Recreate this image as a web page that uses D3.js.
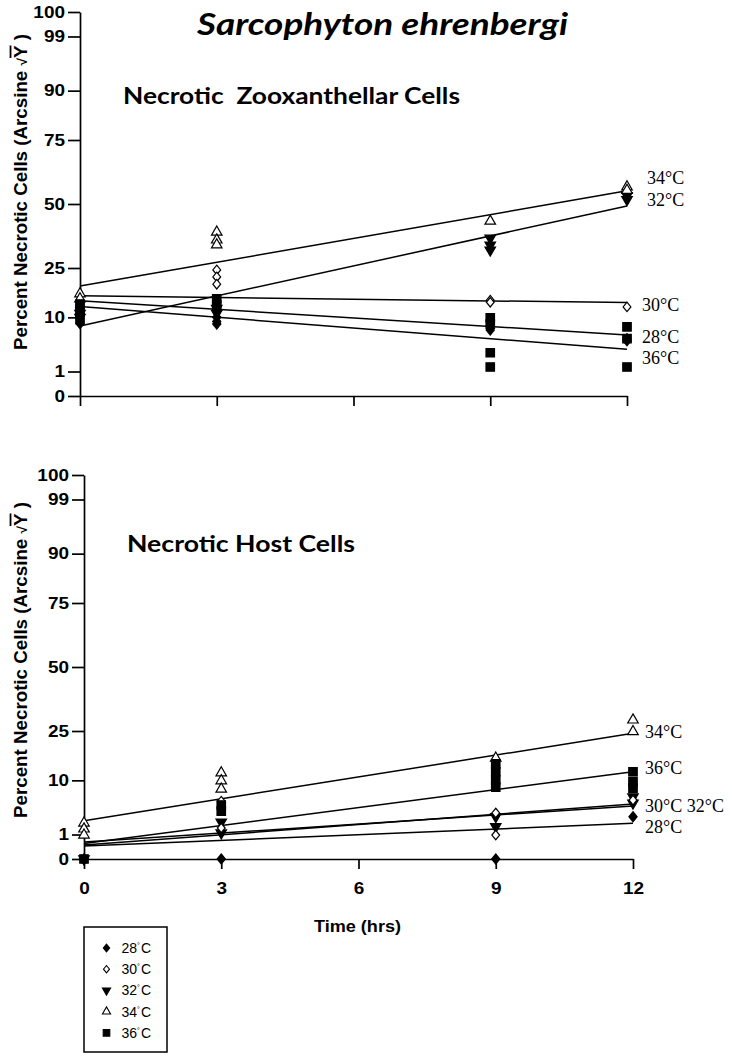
<!DOCTYPE html>
<html><head><meta charset="utf-8">
<script src="https://cdn.jsdelivr.net/npm/d3@7"></script>
<style>
body{margin:0;background:#fff}
svg{display:block}
</style></head><body>
<svg id="chart" width="732" height="1058"></svg>
<script>
// ---------------- data ----------------
const temps = ["28°C", "30°C", "32°C", "34°C", "36°C"];
const timeTicks = [0, 3, 6, 9, 12];
const percentTicks = [0, 1, 10, 25, 50, 75, 90, 99, 100];
const mainTitle = "Sarcophyton ehrenbergi";
const panelTitles = ["Necrotic  Zooxanthellar Cells", "Necrotic Host Cells"];
const xAxisTitle = "Time (hrs)";

// Necrotic zooxanthellar cells: [hours, percent]
const zoo28 = [[0, 12], [0, 11], [0, 8.5], [3, 10], [3, 9], [3, 8.4], [9, 8], [9, 7.1], [12, 5.4], [12, 5]];
const zoo30 = [[0, 14], [0, 13.5], [3, 24.3], [3, 21.9], [3, 19.5], [9, 14.6], [9, 14], [12, 12.7]];
const zoo32 = [[0, 11], [0, 10], [3, 12.3], [3, 11], [9, 36.2], [9, 33.5], [9, 31.6], [12, 53.4], [12, 51.8]];
const zoo34 = [[0, 16.5], [0, 15], [3, 38.6], [3, 35.5], [3, 33.6], [9, 43], [12, 57], [12, 55.6]];
const zoo36 = [[0, 13.5], [0, 12], [0, 9.5], [3, 15], [3, 13.2], [9, 9.9], [9, 8.4], [9, 3.1], [9, 1.4], [12, 7.8], [12, 5.4], [12, 1.4]];
const zooFitStart = [14.4, 15.9, 8.0, 18.9, 12.8];   // fitted percent at 0 h
const zooFitEnd = [6.1, 13.9, 49.2, 55.4, 3.6];      // fitted percent at 12 h

// Necrotic host cells: [hours, percent]
const host28 = [[0, 0], [3, 0], [9, 0], [12, 2.96]];
const host30 = [[0, 0], [3, 5.5], [3, 1.6], [9, 3.5], [9, 0.96], [12, 5.7]];
const host32 = [[0, 0], [3, 2.27], [3, 1.13], [9, 2.96], [9, 1.74], [12, 6.3], [12, 5.15]];
const host34 = [[0, 2.15], [0, 1.5], [0, 0.96], [3, 11.9], [3, 9.9], [3, 7.96], [9, 16.1], [12, 29], [12, 24.8]];
const host36 = [[0, 0], [3, 4.8], [3, 3.8], [9, 14.4], [9, 12.2], [9, 10.1], [9, 8.4], [12, 12.2], [12, 9.7], [12, 8.1]];
const hostFitStart = [0.28, 0.48, 0.33, 2.44, 0.40];
const hostFitEnd = [2.12, 4.63, 4.97, 24.2, 12.2];

// which series share each end label
const zooLabelGroups = [[3], [2], [1], [0], [4]];
const hostLabelGroups = [[3], [4], [1, 2], [0]];

// ---------------- layout ----------------
const asr = p => Math.asin(Math.sqrt(p / 100)) * 180 / Math.PI;  // arcsine sqrt transform (degrees)
const tickAngles = percentTicks.map(asr);

const panels = [
  { series: [zoo28, zoo30, zoo32, zoo34, zoo36], fitStart: zooFitStart, fitEnd: zooFitEnd, groups: zooLabelGroups,
    x0: 80, x1: 627, yb: 396, yt: 12, title: panelTitles[0], titleX: 123, titleY: 104, titleLen: 337,
    labelX: [647, 647, 642, 642, 642], labelDy: [-13, -6, 2, 2, 8], tickLabels: false, yTitleY: 192 },
  { series: [host28, host30, host32, host34, host36], fitStart: hostFitStart, fitEnd: hostFitEnd, groups: hostLabelGroups,
    x0: 84, x1: 633, yb: 859, yt: 475, title: panelTitles[1], titleX: 127, titleY: 552, titleLen: 228,
    labelX: [645, 645, 645, 645], labelDy: [-2, -4, 1, 3], tickLabels: true, yTitleY: 660 }
];

// custom diamond (wider than d3's default), size ~ height^2
const diamond = {
  draw(ctx, size) {
    const h = Math.sqrt(size) / 2, w = h * 0.82;
    ctx.moveTo(0, -h); ctx.lineTo(w, 0); ctx.lineTo(0, h); ctx.lineTo(-w, 0); ctx.closePath();
  }
};

const symDefs = [
  { type: diamond, size: 100, fill: "#000", rot: 0 },
  { type: diamond, size: 90, fill: "#fff", rot: 0 },
  { type: d3.symbolTriangle, size: 48, fill: "#000", rot: 180 },
  { type: d3.symbolTriangle, size: 48, fill: "#fff", rot: 0 },
  { type: d3.symbolSquare, size: 72, fill: "#000", rot: 0 }
];
const drawOrder = [0, 2, 1, 3, 4];

const svg = d3.select("#chart");
const AX = "'Liberation Sans', Arial, sans-serif";
const SERIF = "'Liberation Serif', 'Times New Roman', serif";

svg.append("text")
  .attr("x", 197).attr("y", 35)
  .attr("font-family", "Lato, 'Open Sans', sans-serif")
  .attr("font-weight", "bold").attr("font-style", "italic")
  .attr("font-size", 30)
  .attr("textLength", 371).attr("lengthAdjust", "spacingAndGlyphs")
  .text(mainTitle);

panels.forEach((p, pi) => {
  const x = d3.scaleLinear().domain([0, 12]).range([p.x0, p.x1]);
  const y = d3.scaleLinear().domain([0, 90]).range([p.yb, p.yt]);
  const g = svg.append("g");

  // y axis
  const yAxis = d3.axisLeft(y).tickValues(tickAngles)
    .tickFormat(d => percentTicks[tickAngles.indexOf(d)])
    .tickSize(12).tickPadding(3).tickSizeOuter(0);
  const ya = g.append("g").attr("transform", `translate(${p.x0},0)`).call(yAxis);
  ya.selectAll("text").attr("x", 0)
    .attr("transform", "translate(-15,0) scale(1.15,1)")
    .attr("font-family", AX).attr("font-weight", "bold").attr("font-size", 16.5).attr("fill", "#000");

  // x axis
  const xAxis = d3.axisBottom(x).tickValues(timeTicks).tickSize(10).tickPadding(13).tickSizeOuter(0)
    .tickFormat(p.tickLabels ? d => d : () => "");
  const xa = g.append("g").attr("transform", `translate(0,${p.yb})`).call(xAxis);
  xa.selectAll("text").attr("transform", "scale(1.15,1)")
    .attr("font-family", AX).attr("font-weight", "bold").attr("font-size", 16.5).attr("fill", "#000");
  xa.selectAll("text").attr("x", function () { return 0; });

  [ya, xa].forEach(a => {
    a.select(".domain").attr("stroke", "#000").attr("stroke-width", 1.7);
    a.selectAll(".tick line").attr("stroke", "#000").attr("stroke-width", 1.7);
  });

  // y axis title
  const yt = g.append("text")
    .attr("transform", `translate(27,${p.yTitleY}) rotate(-90) scale(1,1.2)`)
    .attr("text-anchor", "middle")
    .attr("font-family", AX).attr("font-weight", "bold").attr("font-size", 15)
    .attr("textLength", 316).attr("lengthAdjust", "spacingAndGlyphs");
  yt.append("tspan").text("Percent Necrotic Cells (Arcsine ");
  yt.append("tspan").attr("font-size", 11).text("√");
  yt.append("tspan").style("text-decoration", "overline").text("Y");
  yt.append("tspan").text(" )");

  // panel title
  g.append("text")
    .attr("x", p.titleX).attr("y", p.titleY)
    .attr("font-family", "Lato, 'Open Sans', sans-serif").attr("font-weight", "bold")
    .attr("font-size", 23).style("white-space", "pre")
    .attr("textLength", p.titleLen).attr("lengthAdjust", "spacingAndGlyphs")
    .text(p.title);

  // fitted lines
  g.selectAll(".fit").data(p.fitStart).join("line")
    .attr("x1", x(0)).attr("x2", x(12))
    .attr("y1", d => y(asr(d)))
    .attr("y2", (d, i) => y(asr(p.fitEnd[i])))
    .attr("stroke", "#000").attr("stroke-width", 1.5);

  // points
  drawOrder.forEach(si => {
    const s = symDefs[si];
    g.selectAll(null).data(p.series[si]).join("path")
      .attr("d", d3.symbol(s.type, s.size))
      .attr("transform", d => `translate(${x(d[0])},${y(asr(d[1]))}) rotate(${s.rot})`)
      .attr("fill", s.fill).attr("stroke", "#000").attr("stroke-width", 1.2);
  });

  // end labels
  p.groups.forEach((grp, k) => {
    const endY = d3.mean(grp, i => y(asr(p.fitEnd[i])));
    g.append("text")
      .attr("x", p.labelX[k]).attr("y", endY + p.labelDy[k]).attr("dy", "0.35em")
      .attr("font-family", SERIF).attr("font-size", 18)
      .text(grp.map(i => temps[i]).join(" "));
  });
});

// x axis title
svg.append("text")
  .attr("x", 357.5).attr("y", 932).attr("text-anchor", "middle")
  .attr("font-family", AX).attr("font-weight", "bold").attr("font-size", 17)
  .attr("textLength", 87).attr("lengthAdjust", "spacingAndGlyphs")
  .text(xAxisTitle);

// legend
const lg = svg.append("g");
lg.append("rect").attr("x", 84).attr("y", 927).attr("width", 83).attr("height", 125)
  .attr("fill", "#fff").attr("stroke", "#000").attr("stroke-width", 1.5);
temps.forEach((t, i) => {
  const s = symDefs[i];
  const cy = 948 + i * 21.2;
  lg.append("path")
    .attr("d", d3.symbol(s.type, s.size * 0.6))
    .attr("transform", `translate(106.5,${cy}) rotate(${s.rot})`)
    .attr("fill", s.fill).attr("stroke", "#000").attr("stroke-width", 1.1);
  const tx = lg.append("text").attr("x", 121.5).attr("y", cy).attr("dy", "0.36em")
    .attr("font-family", AX).attr("font-size", 14);
  const parts = t.split("°");
  tx.append("tspan").text(parts[0]);
  tx.append("tspan").attr("font-size", 7).attr("dy", -5).text("°");
  tx.append("tspan").attr("dy", 5).attr("dx", 1).text(parts[1]);
});
</script>
</body></html>
